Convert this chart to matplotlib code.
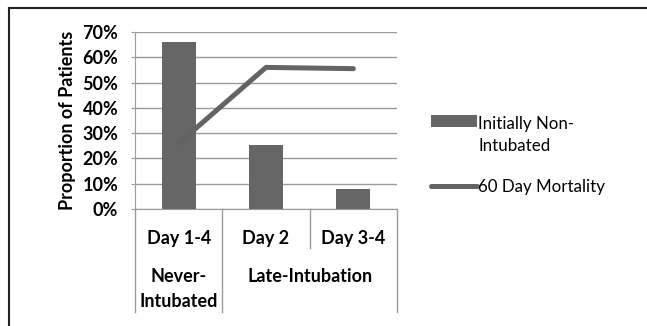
import matplotlib.pyplot as plt
from matplotlib.lines import Line2D
from matplotlib.patches import Rectangle
from matplotlib.legend_handler import HandlerPatch

# Data
categories = ["Day 1-4", "Day 2", "Day 3-4"]
non_intubated = [66, 25.5, 8]
mortality = [26, 56, 55.5]
y_ticks = [0, 10, 20, 30, 40, 50, 60, 70]

plt.rcParams['font.family'] = ['Lato', 'DejaVu Sans']

fig = plt.figure(figsize=(6.47, 3.26), dpi=100)
ax = fig.add_axes([135 / 647, 1 - 209 / 326, 262 / 647, 177 / 326])

x = list(range(len(categories)))
bars = ax.bar(x, non_intubated, width=0.39, color="#666666", zorder=2)
line, = ax.plot(x, mortality, color="#636363", linewidth=3.6, solid_capstyle="round", zorder=3)

ax.set_xlim(-0.5, 2.5)
ax.set_ylim(0, 70)
ax.set_yticks(y_ticks)
ax.set_yticklabels([f"{t}%" for t in y_ticks], fontsize=13, fontweight="bold")
ax.set_xticks([])
ax.yaxis.grid(True, color="#9a9a9a", linewidth=1)
ax.set_axisbelow(True)
ax.tick_params(axis="y", length=3, color="#9a9a9a", pad=9)
for side in ["top", "right"]:
    ax.spines[side].set_visible(False)
ax.spines["left"].set_color("#9a9a9a")
ax.spines["bottom"].set_color("#9a9a9a")

ax.set_ylabel("Proportion of Patients", fontsize=13, fontweight="bold", labelpad=5)

# Category axis with grouped labels
trans = ax.get_xaxis_transform()
line_kw = dict(color="#9a9a9a", linewidth=1, transform=trans, clip_on=False)
for xv, y_end in [(-0.5, -0.582), (0.5, -0.582), (1.5, -0.22), (2.5, -0.582)]:
    ax.add_line(Line2D([xv, xv], [0, y_end], **line_kw))

for xv, lab in zip(x, categories):
    ax.text(xv, -0.164, lab, transform=trans, ha="center", va="center", fontsize=13, fontweight="bold")
ax.text(0, -0.384, "Never-", transform=trans, ha="center", va="center", fontsize=13, fontweight="bold")
ax.text(0, -0.525, "Intubated", transform=trans, ha="center", va="center", fontsize=13, fontweight="bold")
ax.text(1.5, -0.384, "Late-Intubation", transform=trans, ha="center", va="center", fontsize=13, fontweight="bold")


# Legend: bar swatch sits beside the first line of its two-line label
def top_patch(legend, orig_handle, xdescent, ydescent, width, height, fontsize):
    return Rectangle((-xdescent, -ydescent + 0.85 * fontsize), width, height)


leg = fig.legend([bars.patches[0], line], ["Initially Non-\nIntubated", "60 Day Mortality"],
                 loc="upper left", bbox_to_anchor=(424 / 647, 1 - 109 / 326), frameon=False,
                 fontsize=12.2, handlelength=2.7, handletextpad=0.1, labelspacing=1.5,
                 borderaxespad=0,
                 handler_map={Rectangle: HandlerPatch(patch_func=top_patch)})
for t in leg.get_texts():
    t.set_linespacing(1.45)

# Outer border (top and left only visible)
fig.add_artist(Line2D([9 / 647, 1], [1 - 8 / 326, 1 - 8 / 326], color="#222222", linewidth=1.5, transform=fig.transFigure))
fig.add_artist(Line2D([9 / 647, 9 / 647], [0, 1 - 8 / 326], color="#222222", linewidth=1.5, transform=fig.transFigure))

fig.savefig("out.png", dpi=100)
